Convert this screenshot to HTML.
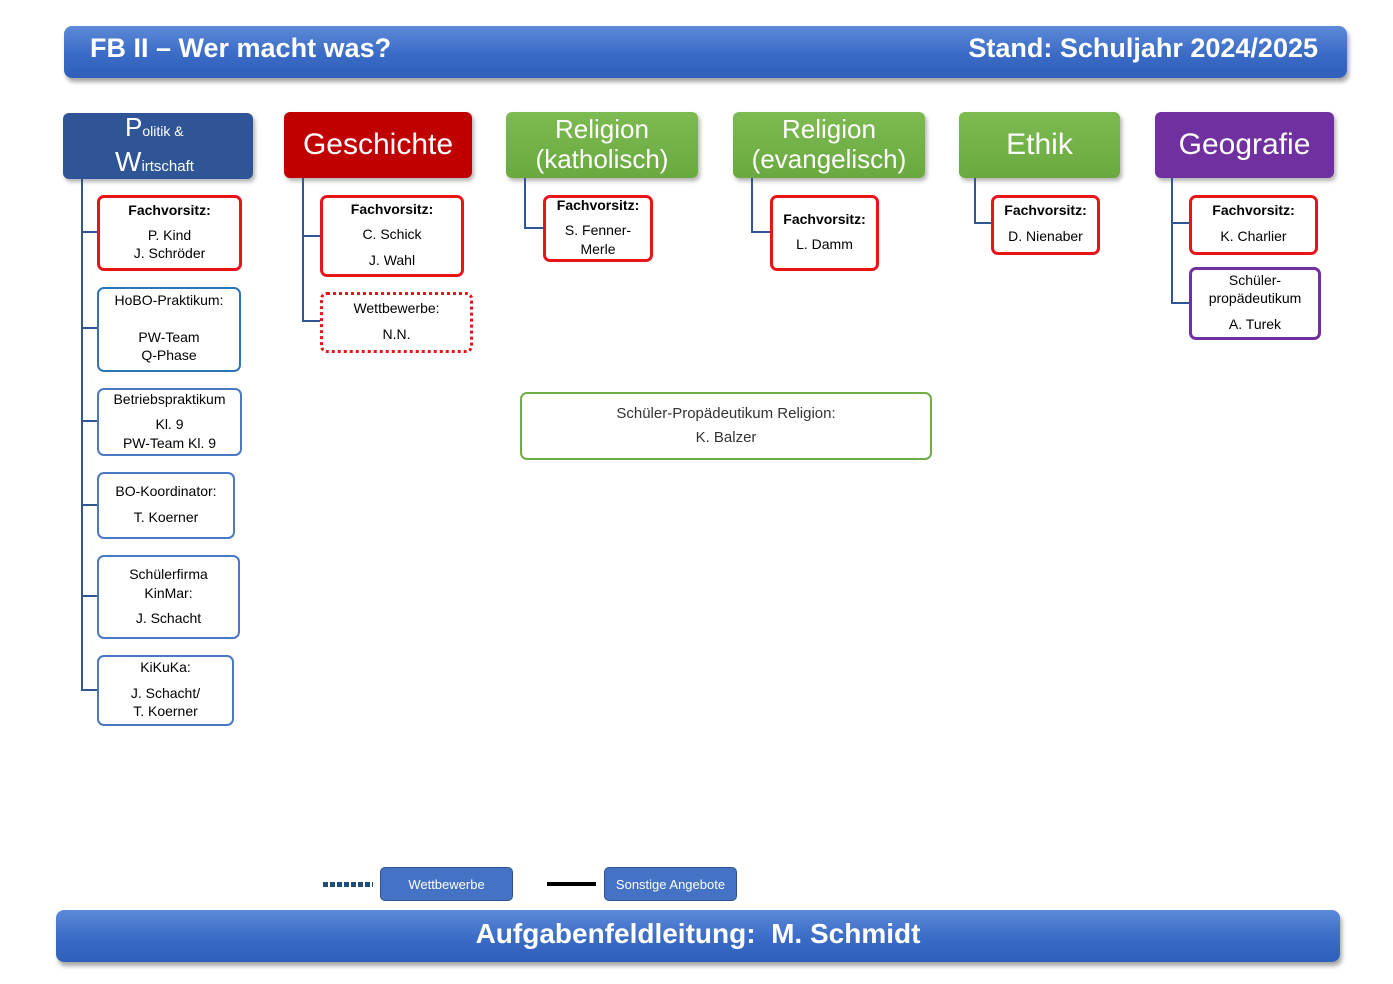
<!DOCTYPE html>
<html><head><meta charset="utf-8"><style>
*{margin:0;padding:0;box-sizing:border-box}
body{width:1393px;height:984px;background:#fff;position:relative;overflow:hidden;font-family:"Liberation Sans",sans-serif;color:#000}
.a{position:absolute}
.bar{position:absolute;border-radius:8px;background:linear-gradient(#5d8ad8,#3a6bc6 55%,#2f5fb8);box-shadow:2px 4px 4px rgba(0,0,0,.35);color:#fff;font-weight:bold}
.h{position:absolute;border-radius:6px;color:#fff;box-shadow:2px 3px 4px rgba(0,0,0,.3);display:flex;align-items:center;justify-content:center;text-align:center;line-height:1.15}
.b{position:absolute;border-radius:7px;background:#fff}
.r{border:3px solid #e8141c}
.bl{border:2px solid #4a78c4}
.t{position:absolute;text-align:center;font-size:14px;line-height:18px;white-space:nowrap}
.v{position:absolute;width:2px;background:#2f5597}
.hz{position:absolute;height:2px;background:#2f5597}
.btn{position:absolute;background:#4472c4;border:1.5px solid #2f528f;border-radius:5px;color:#fff;font-size:13px;display:flex;align-items:center;justify-content:center}
</style></head><body>

<div class="bar" style="left:64px;top:26px;width:1283px;height:52px"></div>
<div class="a" style="left:90px;top:33px;font-size:27px;font-weight:bold;color:#fff">FB II – Wer macht was?</div>
<div class="a" style="left:934px;top:33px;width:384px;text-align:right;font-size:27px;font-weight:bold;color:#fff">Stand: Schuljahr 2024/2025</div>

<div class="bar" style="left:56px;top:910px;width:1284px;height:52px"></div>
<div class="a" style="left:56px;top:918px;width:1284px;text-align:center;font-size:28px;font-weight:bold;color:#fff">Aufgabenfeldleitung:&nbsp; M. Schmidt</div>

<div class="h" style="left:63px;top:113px;width:190px;height:66px;background:#2f5597;display:block">
<div style="position:absolute;left:62px;top:0px;white-space:nowrap"><span style="font-size:26px">P</span><span style="font-size:14px">olitik &amp;</span></div>
<div style="position:absolute;left:52px;top:33px;white-space:nowrap"><span style="font-size:28px">W</span><span style="font-size:15px">irtschaft</span></div>
</div>
<div class="h" style="left:284px;top:112px;width:188px;height:66px;background:#c00000;font-size:30px">Geschichte</div>
<div class="h" style="left:506px;top:112px;width:192px;height:66px;background:linear-gradient(#7dbb52,#6aa940);font-size:26px">Religion<br>(katholisch)</div>
<div class="h" style="left:733px;top:112px;width:192px;height:66px;background:linear-gradient(#7dbb52,#6aa940);font-size:26px">Religion<br>(evangelisch)</div>
<div class="h" style="left:959px;top:112px;width:161px;height:66px;background:linear-gradient(#7dbb52,#6aa940);font-size:30px">Ethik</div>
<div class="h" style="left:1155px;top:112px;width:179px;height:66px;background:#7030a0;font-size:30px">Geografie</div>

<div class="v" style="left:81px;top:179px;height:512px"></div>
<div class="hz" style="left:81px;top:231px;width:17px"></div>
<div class="hz" style="left:81px;top:327px;width:17px"></div>
<div class="hz" style="left:81px;top:420px;width:17px"></div>
<div class="hz" style="left:81px;top:504px;width:17px"></div>
<div class="hz" style="left:81px;top:595px;width:17px"></div>
<div class="hz" style="left:81px;top:689px;width:17px"></div>

<div class="b r" style="left:97px;top:195px;width:145px;height:76px"></div>
<div class="t" style="left:97px;top:201px;width:145px;font-weight:bold">Fachvorsitz:</div>
<div class="t" style="left:97px;top:226px;width:145px">P. Kind</div>
<div class="t" style="left:97px;top:244px;width:145px">J. Schröder</div>

<div class="b" style="left:97px;top:287px;width:144px;height:85px;border:2px solid #2e75b6"></div>
<div class="t" style="left:97px;top:291px;width:144px">HoBO-Praktikum:</div>
<div class="t" style="left:97px;top:328px;width:144px">PW-Team</div>
<div class="t" style="left:97px;top:346px;width:144px">Q-Phase</div>

<div class="b bl" style="left:97px;top:388px;width:145px;height:68px"></div>
<div class="t" style="left:97px;top:390px;width:145px">Betriebspraktikum</div>
<div class="t" style="left:97px;top:415px;width:145px">Kl. 9</div>
<div class="t" style="left:97px;top:434px;width:145px">PW-Team Kl. 9</div>

<div class="b bl" style="left:97px;top:472px;width:138px;height:67px"></div>
<div class="t" style="left:97px;top:482px;width:138px">BO-Koordinator:</div>
<div class="t" style="left:97px;top:508px;width:138px">T. Koerner</div>

<div class="b bl" style="left:97px;top:555px;width:143px;height:84px"></div>
<div class="t" style="left:97px;top:565px;width:143px">Schülerfirma</div>
<div class="t" style="left:97px;top:584px;width:143px">KinMar:</div>
<div class="t" style="left:97px;top:609px;width:143px">J. Schacht</div>

<div class="b bl" style="left:97px;top:655px;width:137px;height:71px"></div>
<div class="t" style="left:97px;top:658px;width:137px">KiKuKa:</div>
<div class="t" style="left:97px;top:684px;width:137px">J. Schacht/</div>
<div class="t" style="left:97px;top:702px;width:137px">T. Koerner</div>

<div class="v" style="left:302px;top:178px;height:144px"></div>
<div class="hz" style="left:302px;top:235px;width:19px"></div>
<div class="hz" style="left:302px;top:320px;width:19px"></div>
<div class="b r" style="left:320px;top:195px;width:144px;height:82px"></div>
<div class="t" style="left:320px;top:200px;width:144px;font-weight:bold">Fachvorsitz:</div>
<div class="t" style="left:320px;top:225px;width:144px">C. Schick</div>
<div class="t" style="left:320px;top:251px;width:144px">J. Wahl</div>
<div class="b" style="left:320px;top:292px;width:153px;height:61px;border:3px dotted #e8141c"></div>
<div class="t" style="left:320px;top:299px;width:153px">Wettbewerbe:</div>
<div class="t" style="left:320px;top:325px;width:153px">N.N.</div>

<div class="v" style="left:524px;top:178px;height:51px"></div>
<div class="hz" style="left:524px;top:227px;width:20px"></div>
<div class="b r" style="left:543px;top:195px;width:110px;height:67px"></div>
<div class="t" style="left:543px;top:196px;width:110px;font-weight:bold">Fachvorsitz:</div>
<div class="t" style="left:543px;top:221px;width:110px">S. Fenner-</div>
<div class="t" style="left:543px;top:240px;width:110px">Merle</div>

<div class="v" style="left:751px;top:178px;height:55px"></div>
<div class="hz" style="left:751px;top:231px;width:20px"></div>
<div class="b r" style="left:770px;top:195px;width:109px;height:76px"></div>
<div class="t" style="left:770px;top:210px;width:109px;font-weight:bold">Fachvorsitz:</div>
<div class="t" style="left:770px;top:235px;width:109px">L. Damm</div>

<div class="v" style="left:974px;top:178px;height:46px"></div>
<div class="hz" style="left:974px;top:222px;width:18px"></div>
<div class="b r" style="left:991px;top:195px;width:109px;height:60px"></div>
<div class="t" style="left:991px;top:201px;width:109px;font-weight:bold">Fachvorsitz:</div>
<div class="t" style="left:991px;top:227px;width:109px">D. Nienaber</div>

<div class="v" style="left:1171px;top:178px;height:126px"></div>
<div class="hz" style="left:1171px;top:222px;width:19px"></div>
<div class="hz" style="left:1171px;top:302px;width:19px"></div>
<div class="b r" style="left:1189px;top:195px;width:129px;height:60px"></div>
<div class="t" style="left:1189px;top:201px;width:129px;font-weight:bold">Fachvorsitz:</div>
<div class="t" style="left:1189px;top:227px;width:129px">K. Charlier</div>
<div class="b" style="left:1189px;top:267px;width:132px;height:73px;border:3px solid #7030a0"></div>
<div class="t" style="left:1189px;top:271px;width:132px">Schüler-</div>
<div class="t" style="left:1189px;top:289px;width:132px">propädeutikum</div>
<div class="t" style="left:1189px;top:315px;width:132px">A. Turek</div>

<div class="b" style="left:520px;top:392px;width:412px;height:68px;border:2px solid #70ad47"></div>
<div class="t" style="left:520px;top:405px;width:412px;font-size:15px;color:#333">Schüler-Propädeutikum Religion:</div>
<div class="t" style="left:520px;top:429px;width:412px;font-size:15px;color:#333">K. Balzer</div>

<div class="a" style="left:323px;top:882px;width:50px;height:5px;background:repeating-linear-gradient(90deg,#1f4e79 0 5px,transparent 5px 7px)"></div>
<div class="btn" style="left:380px;top:867px;width:133px;height:34px">Wettbewerbe</div>
<div class="a" style="left:547px;top:882px;width:49px;height:4px;background:#000"></div>
<div class="btn" style="left:604px;top:867px;width:133px;height:34px">Sonstige Angebote</div>
</body></html>
